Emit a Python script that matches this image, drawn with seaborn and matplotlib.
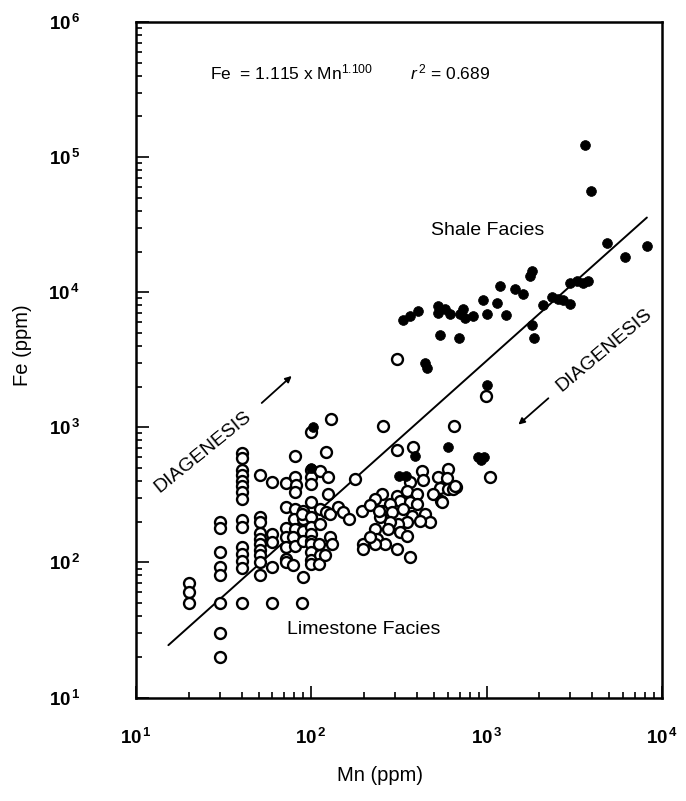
import matplotlib
matplotlib.use("Agg")
import matplotlib.pyplot as plt
from matplotlib.ticker import LogLocator, NullFormatter
import pandas as pd
import seaborn as sns

# ---------------- data ----------------
limestone_mn = [20, 20, 20,
                30, 30, 30, 30, 30, 30, 30, 30,
                40, 40, 40, 40, 40, 40, 40, 40, 40, 40, 40, 40, 40, 40, 40,
                51, 51, 51, 51, 51, 51, 51, 51, 51, 51,
                60, 60, 60, 60, 60,
                72, 72, 72, 72, 72, 72, 72,
                81, 81, 82, 81, 81, 80, 81, 79, 81, 79,
                90, 90, 90, 90, 90, 89, 89,
                100, 100, 100, 100, 100, 100, 100, 100, 100, 100, 100, 100, 100,
                112, 112, 112, 110, 112, 110,
                122, 121, 120, 125, 125, 128, 131, 130, 128,
                142, 152, 163, 178, 255, 307, 307, 380, 654, 990, 1050,
                425, 435, 525, 600, 595, 670, 542, 495, 548, 605,
                363, 252, 231, 308, 352, 400, 320, 363, 281, 400,
                252, 290, 335, 375, 445, 475, 417, 352, 313, 281,
                246, 231, 273, 320, 236, 263, 308, 352, 363, 231,
                194, 216, 242, 198, 216, 198, 640, 660, 555]
limestone_fe = [70, 60, 50,
                200, 180, 120, 92, 80, 50, 30, 20,
                640, 590, 480, 440, 400, 370, 330, 295, 205, 182, 130, 115, 102, 91, 50,
                440, 216, 200, 165, 150, 137, 123, 113, 100, 80,
                395, 163, 141, 92, 50,
                390, 256, 180, 154, 130, 106, 100,
                618, 427, 375, 330, 250, 210, 178, 153, 133, 95,
                242, 210, 172, 145, 78, 50, 229,
                920, 480, 427, 380, 279, 216, 182, 163, 145, 137, 119, 104, 98,
                477, 250, 193, 137, 113, 98,
                655, 236, 113, 427, 323, 153, 137, 1150, 229,
                256, 235, 210, 412, 1025, 682, 3180, 720, 1025, 1706, 427,
                472, 408, 427, 490, 421, 362, 358, 322, 287, 350,
                392, 322, 295, 312, 340, 322, 287, 278, 271, 271,
                242, 235, 250, 222, 229, 198, 204, 198, 193, 198,
                215, 178, 178, 167, 150, 137, 126, 158, 110, 137,
                242, 264, 242, 137, 153, 126, 350, 370, 278]

shale_mn = [3640, 3960, 4840, 8180, 6150, 1810, 1770, 2990, 3270, 3560,
            3800, 1190, 1450, 1620, 957, 1140, 2100, 2350, 2560, 2740,
            2990, 530, 579, 618, 530, 705, 753, 840, 736, 407,
            365, 335, 1010, 1290, 1810, 1860, 542, 698, 445, 455,
            1010, 960, 890, 930, 600, 390, 318, 346, 102, 100]
shale_fe = [123000, 56000, 23100, 21900, 18200, 14300, 13100, 11700, 12100, 11700,
            12200, 11100, 10600, 9700, 8690, 8340, 8020, 9180, 8980, 8690,
            8200, 7890, 7450, 6850, 7030, 6850, 6460, 6650, 7450, 7240,
            6650, 6180, 6850, 6780, 5700, 4600, 4820, 4600, 3000, 2760,
            2050, 600, 600, 570, 710, 617, 434, 438, 1000, 500]

# regression line end points as drawn
line_mn = [15.3, 8200]
line_fe = [24.4, 35700]

x_ticks = [10, 100, 1000, 10000]
x_tick_labels = [r"$\mathbf{10}^{\,\mathbf{1}}$", r"$\mathbf{10}^{\,\mathbf{2}}$",
                 r"$\mathbf{10}^{\,\mathbf{3}}$", r"$\mathbf{10}^{\,\mathbf{4}}$"]
y_ticks = [10, 100, 1000, 10000, 100000, 1000000]
y_tick_labels = [r"$\mathbf{10}^{\,\mathbf{1}}$", r"$\mathbf{10}^{\,\mathbf{2}}$",
                 r"$\mathbf{10}^{\,\mathbf{3}}$", r"$\mathbf{10}^{\,\mathbf{4}}$",
                 r"$\mathbf{10}^{\,\mathbf{5}}$", r"$\mathbf{10}^{\,\mathbf{6}}$"]

# ---------------- style ----------------
sns.set_style("white")
plt.rcParams['font.family'] = ['Liberation Sans', 'DejaVu Sans']
plt.rcParams['mathtext.fontset'] = 'custom'
plt.rcParams['mathtext.rm'] = 'Liberation Sans'
plt.rcParams['mathtext.it'] = 'Liberation Sans:italic'
plt.rcParams['mathtext.bf'] = 'Liberation Sans:bold'
plt.rcParams['text.color'] = 'black'
plt.rcParams['axes.labelcolor'] = 'black'
plt.rcParams['xtick.color'] = 'black'
plt.rcParams['ytick.color'] = 'black'

fig = plt.figure(figsize=(6.86, 8.01), dpi=100)
ax = fig.add_axes([136 / 686, 1 - 697.5 / 801, 526 / 686, 675.5 / 801])

lime = pd.DataFrame({"Mn": limestone_mn, "Fe": limestone_fe})
shale = pd.DataFrame({"Mn": shale_mn, "Fe": shale_fe})
reg = pd.DataFrame({"Mn": line_mn, "Fe": line_fe})

sns.lineplot(data=reg, x="Mn", y="Fe", ax=ax, color="black", linewidth=1.4, zorder=2)
sns.scatterplot(data=lime, x="Mn", y="Fe", ax=ax, marker="o", s=62,
                color="white", edgecolor="black", linewidth=1.7, zorder=3)
sns.scatterplot(data=shale, x="Mn", y="Fe", ax=ax, marker="o", s=50,
                color="black", edgecolor="black", linewidth=0.5, zorder=4)

ax.set_xscale("log")
ax.set_yscale("log")
ax.set_xlim(10, 10000)
ax.set_ylim(10, 1000000)

ax.set_xticks(x_ticks)
ax.set_xticklabels(x_tick_labels)
ax.set_yticks(y_ticks)
ax.set_yticklabels(y_tick_labels)
ax.xaxis.set_minor_locator(LogLocator(base=10, subs=range(2, 10), numticks=20))
ax.yaxis.set_minor_locator(LogLocator(base=10, subs=range(2, 10), numticks=20))
ax.xaxis.set_minor_formatter(NullFormatter())
ax.yaxis.set_minor_formatter(NullFormatter())

ax.tick_params(which="both", direction="in", top=False, right=False,
               bottom=True, left=True, color="black", width=1.2)
ax.tick_params(which="major", length=9)
ax.tick_params(which="minor", length=4.5)
ax.tick_params(axis="x", which="major", pad=22, labelsize=13.5, labelcolor="black")
ax.tick_params(axis="y", which="major", pad=40, labelsize=13.5, labelcolor="black")

for sp in ax.spines.values():
    sp.set_visible(True)
    sp.set_color("black")
    sp.set_linewidth(1.8)

ax.set_xlabel("Mn (ppm)", fontsize=14.5, color="black")
ax.set_ylabel("Fe (ppm)", fontsize=14.5, color="black")
ax.xaxis.set_label_coords(0.464, -0.102)
ax.yaxis.set_label_coords(-0.198, 0.522)

# annotations
ax.text(0.141, 0.926, r"Fe  = 1.115 x Mn$^{1.100}$", transform=ax.transAxes,
        fontsize=12.5, ha="left", va="center", color="black")
ax.text(0.521, 0.926, r"$\mathit{r}^{\,2}$ = 0.689", transform=ax.transAxes,
        fontsize=12.5, ha="left", va="center", color="black")
ax.text(0.669, 0.692, "Shale Facies", transform=ax.transAxes,
        fontsize=14, ha="center", va="center", color="black")
ax.text(0.432, 0.100, "Limestone Facies", transform=ax.transAxes,
        fontsize=14, ha="center", va="center", color="black")
ax.text(0.127, 0.364, "DIAGENESIS", transform=ax.transAxes, fontsize=14,
        ha="center", va="center", rotation=39, rotation_mode="anchor", color="black")
ax.text(0.890, 0.514, "DIAGENESIS", transform=ax.transAxes, fontsize=14,
        ha="center", va="center", rotation=40, rotation_mode="anchor", color="black")
ax.annotate("", xy=(0.296, 0.476), xytext=(0.239, 0.436), xycoords="axes fraction",
            textcoords="axes fraction",
            arrowprops=dict(arrowstyle="-|>", color="black", lw=1.3,
                            mutation_scale=9, shrinkA=0, shrinkB=0))
ax.annotate("", xy=(0.727, 0.404), xytext=(0.784, 0.443), xycoords="axes fraction",
            textcoords="axes fraction",
            arrowprops=dict(arrowstyle="-|>", color="black", lw=1.3,
                            mutation_scale=9, shrinkA=0, shrinkB=0))

fig.savefig("out.png", dpi=100, facecolor="white")
